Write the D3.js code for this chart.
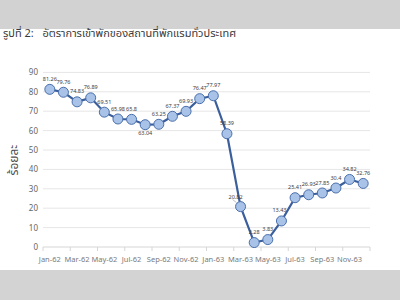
<!DOCTYPE html>
<html>
<head>
<meta charset="utf-8">
<script src="https://cdn.jsdelivr.net/npm/d3@7"></script>
<style>
  body { margin: 0; background: #fff; }
  svg { display: block; font-family: Tahoma, "Noto Sans Thai", "Noto Sans", "DejaVu Sans", sans-serif; }
</style>
</head>
<body>
<svg id="chart" width="400" height="300"></svg>
<script>
// monthly occupancy rate, Jan-62 .. Dec-63
const months = ['Jan-62','Feb-62','Mar-62','Apr-62','May-62','Jun-62','Jul-62','Aug-62','Sep-62','Oct-62','Nov-62','Dec-62',
                'Jan-63','Feb-63','Mar-63','Apr-63','May-63','Jun-63','Jul-63','Aug-63','Sep-63','Oct-63','Nov-63','Dec-63'];
const rates = [81.26, 79.76, 74.83, 76.89, 69.51, 65.98, 65.8, 63.04, 63.25, 67.37, 69.93, 76.47,
               77.97, 58.39, 20.82, 2.28, 3.83, 13.43, 25.41, 26.93, 27.85, 30.4, 34.82, 32.76];
const yTicks = [0, 10, 20, 30, 40, 50, 60, 70, 80, 90];

const svg = d3.select('#chart');

// grey strips top and bottom (cropped screenshot look)
svg.append('rect').attr('x', 0).attr('y', 0).attr('width', 400).attr('height', 29).attr('fill', '#d2d2d2');
svg.append('rect').attr('x', 0).attr('y', 270).attr('width', 400).attr('height', 30).attr('fill', '#d3d3d3');

svg.append('text')
  .attr('x', 3).attr('y', 37)
  .attr('font-size', 11).attr('fill', '#3a3a3a')
  .text('รูปที่ 2:\u00a0\u00a0\u00a0อัตราการเข้าพักของสถานที่พักแรมทั่วประเทศ');

const x = d3.scaleBand().domain(months).range([43, 370]).padding(0);
const y = d3.scaleLinear().domain([0, 90]).range([247, 72.4]);

// gridlines
svg.append('g').selectAll('line').data(yTicks.slice(1)).enter().append('line')
  .attr('x1', 43).attr('x2', 370)
  .attr('y1', d => y(d)).attr('y2', d => y(d))
  .attr('stroke', '#e6e6e6').attr('stroke-width', 1);

// y axis labels
svg.append('g').selectAll('text').data(yTicks).enter().append('text')
  .attr('x', 38).attr('y', d => y(d) + 3)
  .attr('text-anchor', 'end').attr('font-size', 8).attr('fill', '#666')
  .text(d => d);

// x axis baseline + ticks every two months
svg.append('line').attr('x1', 43).attr('x2', 370).attr('y1', 247).attr('y2', 247)
  .attr('stroke', '#d6d6d6');
const tickCats = months.filter((m, i) => i % 2 === 0);
svg.append('g').selectAll('line').data(tickCats).enter().append('line')
  .attr('x1', d => x(d)).attr('x2', d => x(d))
  .attr('y1', 247).attr('y2', 251)
  .attr('stroke', '#d6d6d6');
svg.append('line').attr('x1', 370).attr('x2', 370).attr('y1', 247).attr('y2', 251).attr('stroke', '#d6d6d6');

svg.append('g').selectAll('text').data(tickCats).enter().append('text')
  .attr('x', d => x(d) + x.bandwidth() / 2).attr('y', 262)
  .attr('text-anchor', 'middle').attr('font-size', 7.5).attr('fill', '#7a7a7a')
  .text(d => d);

// y title
svg.append('text')
  .attr('transform', 'translate(18,160) rotate(-90)')
  .attr('text-anchor', 'middle').attr('font-size', 12).attr('fill', '#505050')
  .text('ร้อยละ');

// line + markers
const cx = (d, i) => x(months[i]) + x.bandwidth() / 2;
const line = d3.line().x(cx).y(d => y(d));
svg.append('path').datum(rates)
  .attr('d', line).attr('fill', 'none')
  .attr('stroke', '#3b5e9c').attr('stroke-width', 2.2);

svg.append('g').selectAll('circle').data(rates).enter().append('circle')
  .attr('cx', cx).attr('cy', d => y(d)).attr('r', 5)
  .attr('fill', '#a9c3e8').attr('stroke', '#4a6fab').attr('stroke-width', 1);

// data labels
const labelOffset = (d, i) => {
  if (i === 7) return [0, 9];       // 63.04 sits under its point
  if (i === 14) return [-5, -9];    // 20.82 pulled left
  if (i === 17) return [-2, -10];
  return [0, -10];
};
svg.append('g').selectAll('text').data(rates).enter().append('text')
  .attr('x', (d, i) => cx(d, i) + labelOffset(d, i)[0])
  .attr('y', (d, i) => y(d) + labelOffset(d, i)[1])
  .attr('text-anchor', 'middle').attr('dominant-baseline', 'middle')
  .attr('font-size', 5.5).attr('fill', '#404040')
  .text(d => d);

// leader line for 20.82
svg.append('line')
  .attr('x1', cx(rates[14], 14) - 8).attr('y1', y(rates[14]) - 7)
  .attr('x2', cx(rates[14], 14) - 4).attr('y2', y(rates[14]) - 4)
  .attr('stroke', '#999').attr('stroke-width', 0.6);
</script>
</body>
</html>
